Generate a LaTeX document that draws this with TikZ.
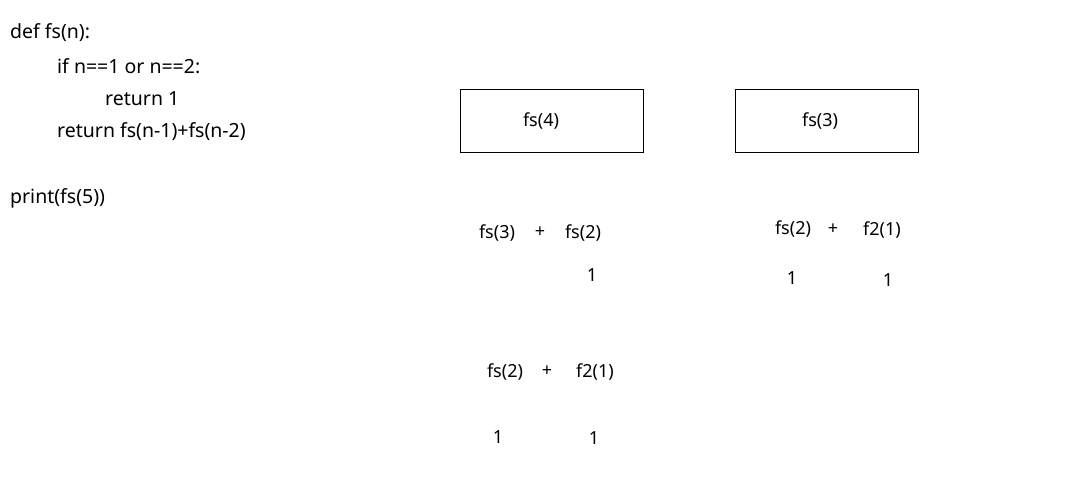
\documentclass[tikz,border=0pt]{standalone}
\usepackage{fontspec}
\setmainfont{Noto Sans}
\usetikzlibrary{positioning}
\newcommand{\boxsizex}{183pt}
\newcommand{\boxsizey}{63pt}
\tikzset{
  codeline/.style={anchor=west,inner sep=0pt,font=\fontsize{19.5}{22}\selectfont},
  callbox/.style={draw,line width=0.8pt,minimum width=\boxsizex,minimum height=\boxsizey,inner sep=0pt,font=\fontsize{18}{20}\selectfont},
  term/.style={inner sep=0pt,font=\fontsize{18}{20}\selectfont}
}
\begin{document}
\begin{tikzpicture}[x=1pt,y=-1pt]
    \useasboundingbox (0,0) rectangle (1075,487);
    % code
    \node[codeline] (def) at (10,33) {def fs(n):};
    \node[codeline] (cond) at (57,66) {if n==1 or n==2:};
    \node[codeline] (ret1) at (105,99) {return 1};
    \node[codeline] (ret2) at (57,132) {return fs(n-1)+fs(n-2)};
    \node[codeline] (prnt) at (10,198) {print(fs(5))};
    % call boxes
    \node[callbox] (fsfour) at (551.5,120.5) {};
    \node[term] at (541,121) {fs(4)};
    \node[callbox] (fsthree) at (826.5,120.5) {};
    \node[term] at (820,121) {fs(3)};
    % fs(4) split
    \node[term] (a1) at (497,233) {fs(3)};
    \node[term] (a2) at (540,232) {+};
    \node[term] (a3) at (583,233) {fs(2)};
    \node[term] (a4) at (592,275) {1};
    % fs(3) split
    \node[term] (b1) at (793,229) {fs(2)};
    \node[term] (b2) at (833,229) {+};
    \node[term] (b3) at (882,230) {f2(1)};
    \node[term] (b4) at (792,278) {1};
    \node[term] (b5) at (888,280) {1};
    % lower fs(3) split
    \node[term] (c1) at (505,372) {fs(2)};
    \node[term] (c2) at (547,371) {+};
    \node[term] (c3) at (595,372) {f2(1)};
    \node[term] (c4) at (498,437) {1};
    \node[term] (c5) at (594,438) {1};
\end{tikzpicture}
\end{document}
